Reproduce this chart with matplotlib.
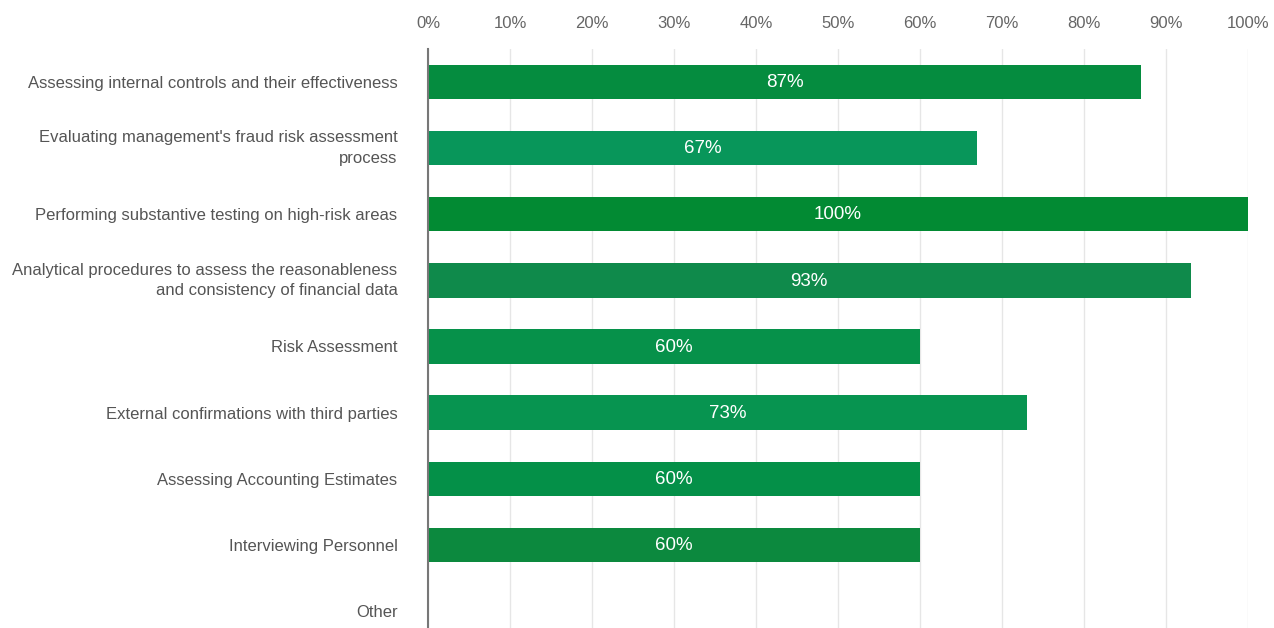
import matplotlib
matplotlib.use("Agg")
import matplotlib.pyplot as plt
from matplotlib.ticker import FixedLocator, FuncFormatter

plt.rcParams["font.family"] = ["Liberation Sans", "DejaVu Sans"]

# ---- data
categories = [
    "Assessing internal controls and their effectiveness",
    "Evaluating management's fraud risk assessment\nprocess",
    "Performing substantive testing on high-risk areas",
    "Analytical procedures to assess the reasonableness\nand consistency of financial data",
    "Risk Assessment",
    "External confirmations with third parties",
    "Assessing Accounting Estimates",
    "Interviewing Personnel",
    "Other",
]
values = [87, 67, 100, 93, 60, 73, 60, 60, 0]
bar_colors = ["#058c3f", "#08965a", "#028a33", "#0f8a4b",
              "#06914a", "#079450", "#049048", "#0c893e", "#058c3f"]
x_ticks = list(range(0, 101, 10))

LABEL_GREY = "#555555"
TICK_GREY = "#666666"
GRID = "#e6e6e6"

fig = plt.figure(figsize=(12.74, 6.28), dpi=100)
# rows are 66 px apart; the last one runs past the bottom edge
ax = fig.add_axes([428 / 1274, 1 - 644 / 628, (1248 - 428) / 1274, (644 - 49) / 628])

ypos = list(range(len(categories)))
ax.barh(ypos, values, height=0.52, color=bar_colors, zorder=2)

for y, v in zip(ypos, values):
    if v > 0:
        ax.text(v / 2, y + 0.01, f"{v}%", ha="center", va="center",
                color="white", fontsize=13.5, zorder=3)

ax.set_xlim(0, 100)
ax.set_ylim(len(categories) - 0.5, -0.5)

ax.xaxis.set_major_locator(FixedLocator(x_ticks))
ax.xaxis.set_major_formatter(FuncFormatter(lambda v, _: f"{v:.0f}%"))
ax.xaxis.tick_top()
ax.tick_params(axis="x", length=0, pad=13, labelsize=12, labelcolor=TICK_GREY)

ax.set_yticks(ypos)
ax.set_yticklabels(categories)
ax.tick_params(axis="y", length=0, pad=22, labelsize=12, labelcolor=LABEL_GREY)
for lbl in ax.get_yticklabels():
    if "\n" in lbl.get_text():
        lbl.set_linespacing(1.45)
        lbl.set_va("center")

ax.grid(axis="x", color=GRID, lw=1.0, zorder=0)
ax.set_axisbelow(True)
for side in ("top", "right", "bottom"):
    ax.spines[side].set_visible(False)
ax.spines["left"].set_color("#777777")
ax.spines["left"].set_linewidth(1.5)
ax.spines["left"].set_zorder(4)

fig.savefig("out.png", dpi=100)
